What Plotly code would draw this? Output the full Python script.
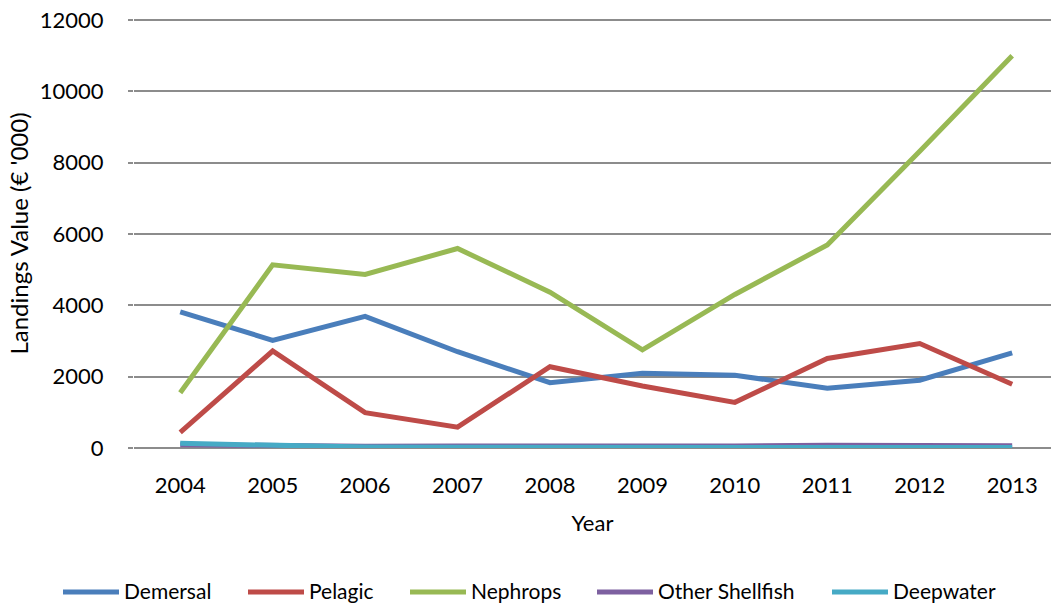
import plotly.graph_objects as go

# Landings value by species group, € '000
years = ["2004", "2005", "2006", "2007", "2008", "2009", "2010", "2011", "2012", "2013"]
demersal = [3820, 3020, 3690, 2700, 1830, 2095, 2040, 1675, 1900, 2670]
pelagic = [440, 2720, 990, 585, 2280, 1740, 1280, 2510, 2930, 1790]
nephrops = [1550, 5135, 4865, 5595, 4370, 2750, 4305, 5695, 8320, 11000]
other_shellfish = [90, 60, 50, 55, 50, 45, 55, 80, 60, 65]
deepwater = [130, 75, 25, 20, 15, 15, 15, 15, 15, 15]

series_names = ["Demersal", "Pelagic", "Nephrops", "Other Shellfish", "Deepwater"]
series_values = [demersal, pelagic, nephrops, other_shellfish, deepwater]
colors = ["#4A7EBB", "#BE4B48", "#98B954", "#7D60A0", "#46AAC5"]

y_ticks = [0, 2000, 4000, 6000, 8000, 10000, 12000]
y_tick_labels = ["0", "2000", "4000", "6000", "8000", "10000", "12000"]

FONT = "Lato, Carlito, Calibri, sans-serif"
W, H = 1051, 605
Y_TOP = 12030
ML, MR, MT, MB = 134, 0, 19, 157
PW, PH = W - ML - MR, H - MT - MB

fig = go.Figure()
for name, vals, col in zip(series_names, series_values, colors):
    fig.add_trace(go.Scatter(
        x=list(range(len(years))), y=vals, name=name, mode="lines",
        line=dict(color=col, width=5), showlegend=False,
    ))

# Legend drawn as line swatches plus labels below the plot
legend_left_px = [63, 248, 410, 597, 832]
legend_y_px = 590
sw_len = 56


def px_x(p):
    return (p - ML) / PW


def px_y(p):
    return (H - MB - p) / PH


shapes = []
annotations = []
for name, col, lx in zip(series_names, colors, legend_left_px):
    shapes.append(dict(
        type="line", xref="paper", yref="paper",
        x0=px_x(lx), x1=px_x(lx + sw_len), y0=px_y(legend_y_px + 2), y1=px_y(legend_y_px + 2),
        line=dict(color=col, width=5),
    ))
    annotations.append(dict(
        xref="paper", yref="paper", x=px_x(lx + sw_len + 3), y=px_y(legend_y_px),
        xanchor="left", yanchor="middle", text=name, showarrow=False,
        font=dict(family=FONT, size=21, color="#000000"),
    ))

fig.update_layout(
    width=W, height=H,
    margin=dict(l=ML, r=MR, t=MT, b=MB, autoexpand=False),
    paper_bgcolor="white", plot_bgcolor="white",
    font=dict(family=FONT, size=22, color="#000000"),
    shapes=shapes, annotations=annotations,
    xaxis=dict(
        tickmode="array", tickvals=list(range(len(years))), ticktext=years,
        range=[-0.5, 9.42], showgrid=False, zeroline=False,
        showline=False, ticks="", ticklabelstandoff=22,
        title=dict(text="Year", standoff=18, font=dict(size=22)),
        tickfont=dict(size=22),
    ),
    yaxis=dict(
        range=[0, Y_TOP], tickmode="array", tickvals=y_ticks, ticktext=y_tick_labels,
        showgrid=True, gridcolor="#8C8C8C", gridwidth=1.5,
        zeroline=True, zerolinecolor="#8C8C8C", zerolinewidth=1.5,
        ticks="outside", ticklen=5, tickcolor="#8C8C8C", tickwidth=1.5,
        ticklabelstandoff=20, showline=False,
        title=dict(text="Landings Value (€ '000)", standoff=4, font=dict(size=24)),
        tickfont=dict(size=22),
    ),
)

fig.write_html("out.html")
